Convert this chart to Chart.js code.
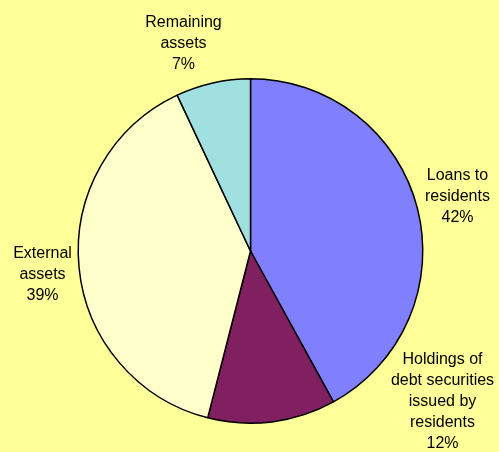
<!DOCTYPE html>
<html lang="en">
<head>
    <meta charset="UTF-8">
    <title>Pie chart</title>
    <script src="https://cdn.jsdelivr.net/npm/chart.js"></script>
    <style>
        html, body {
            margin: 0;
            padding: 0;
            background-color: #FFFF99;
        }
        .chart-container {
            width: 499px;
            height: 452px;
        }
    </style>
</head>
<body>
    <div class="chart-container">
        <canvas id="pieChart"></canvas>
    </div>

    <script>
        // data
        const categories = [
            ["Loans to", "residents"],
            ["Holdings of", "debt securities", "issued by", "residents"],
            ["External", "assets"],
            ["Remaining", "assets"]
        ];
        const shares = [42, 12, 39, 7];
        const sliceColors = ['#8080FF', '#802060', '#FFFFCC', '#A0E0E0'];

        // label anchor offsets from pie centre (x, y of first line)
        const labelOffsets = [
            [207, -75],
            [192, 109],
            [-208, 3],
            [-67, -228]
        ];

        const outsideLabels = {
            id: 'outsideLabels',
            afterDatasetsDraw(chart) {
                const ctx = chart.ctx;
                const arc = chart.getDatasetMeta(0).data[0];
                const cx = arc.x, cy = arc.y;
                ctx.save();
                ctx.fillStyle = '#000';
                ctx.font = '16px "Liberation Sans", Arial, sans-serif';
                ctx.textAlign = 'center';
                ctx.textBaseline = 'middle';
                categories.forEach((lines, i) => {
                    const all = lines.concat([shares[i] + '%']);
                    const x = cx + labelOffsets[i][0];
                    const y = cy + labelOffsets[i][1];
                    all.forEach((t, j) => ctx.fillText(t, x, y + j * 21));
                });
                ctx.restore();
            }
        };

        new Chart(document.getElementById('pieChart'), {
            type: 'pie',
            data: {
                labels: categories.map(c => c.join(' ')),
                datasets: [{
                    data: shares,
                    backgroundColor: sliceColors,
                    borderColor: '#000',
                    borderWidth: 1.5
                }]
            },
            options: {
                responsive: true,
                maintainAspectRatio: false,
                animation: false,
                layout: { padding: { left: 77, right: 75, top: 78, bottom: 28 } },
                plugins: {
                    legend: { display: false },
                    tooltip: { enabled: false }
                }
            },
            plugins: [outsideLabels]
        });
    </script>
</body>
</html>
